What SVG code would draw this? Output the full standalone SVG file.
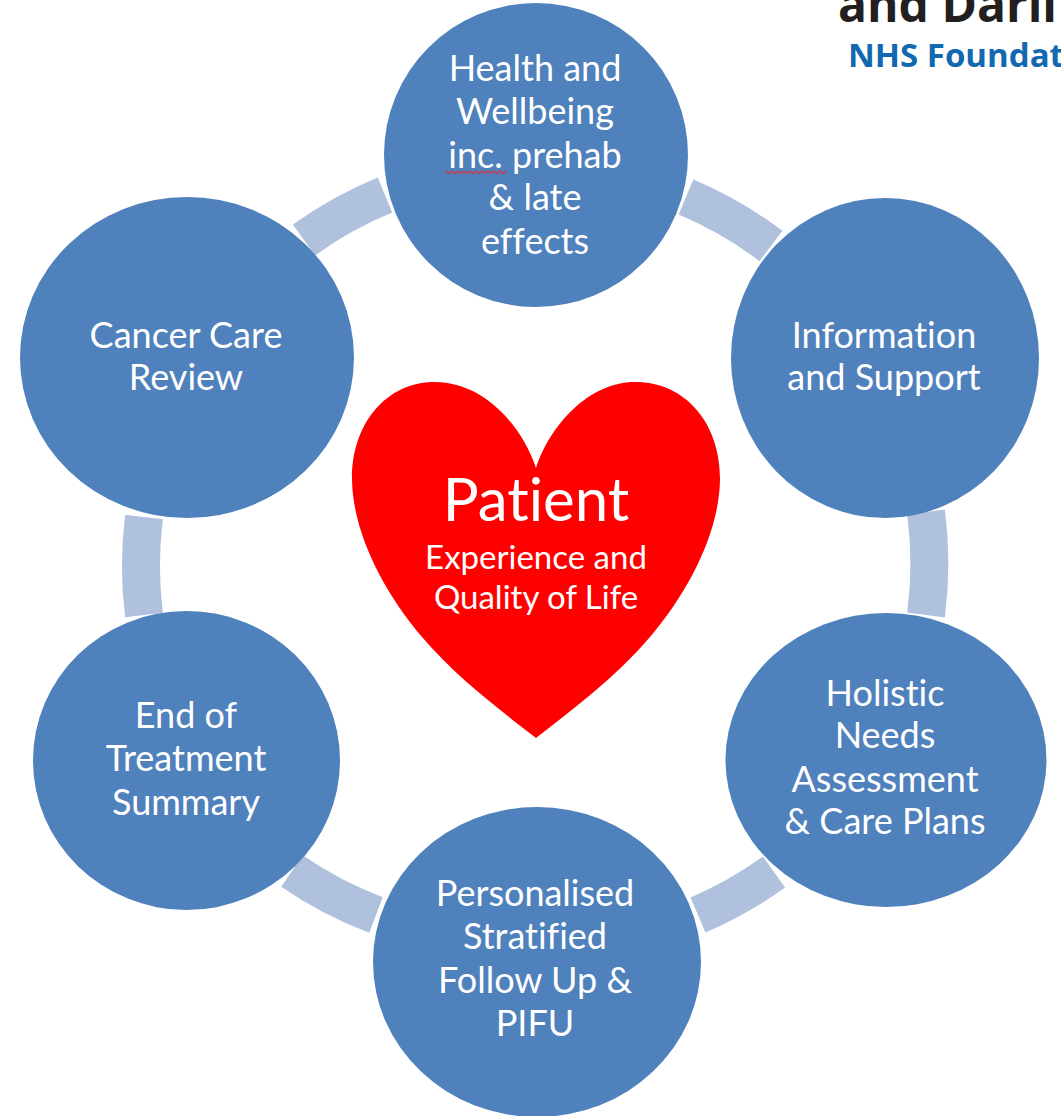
<svg xmlns="http://www.w3.org/2000/svg" width="1061" height="1116" viewBox="0 0 1061 1116">
<style>
.n{fill:#4f81bd}
.c{fill:none;stroke:#b0c1de;stroke-width:38}
text{font-family:Lato,"Open Sans",sans-serif;fill:#fff;text-anchor:middle;font-size:36px;font-variant-ligatures:none}
.logo{font-family:"Open Sans",sans-serif;font-weight:700;text-anchor:start}
</style>
<rect width="1061" height="1116" fill="#fff"/>
<g id="connectors">
<path class="c" d="M686 197A393 393 0 0 1 771 246"/>
<path class="c" d="M926 512A393 393 0 0 1 926 615"/>
<path class="c" d="M774 872A393 393 0 0 1 698 915"/>
<path class="c" d="M376 915A393 393 0 0 1 292 871"/>
<path class="c" d="M144 615A393 393 0 0 1 144 517"/>
<path class="c" d="M304 240A393 393 0 0 1 385 195"/>
</g>
<g id="logo">
<text class="logo" x="838" y="22" style="fill:#231f20;font-size:48px">and Darli</text>
<text class="logo" x="848" y="67" style="fill:#1269b0;font-size:33px">NHS Foundat</text>
</g>
<g id="health"><circle class="n" cx="536" cy="155" r="152"/>
<text x="535" y="81">Health and</text><text x="535" y="124">Wellbeing</text><text x="535" y="168">inc. prehab</text><text x="535" y="210">&amp; late</text><text x="535" y="254">effects</text>
<path d="M446 171l3 2.500 3-2.500 3 2.500 3-2.500 3 2.500 3-2.500 3 2.500 3-2.500 3 2.500 3-2.500 3 2.500 3-2.500 3 2.500 3-2.500 3 2.500 3-2.500 3 2.500 3-2.500 3 2.500 3-2.500" fill="none" stroke="#c8404f" stroke-width="1.500"/></g>
<g id="information"><ellipse class="n" cx="885" cy="358" rx="154" ry="160"/>
<text x="884" y="348">Information</text><text x="884" y="390">and Support</text></g>
<g id="holistic"><ellipse class="n" cx="886" cy="760" rx="160.500" ry="147"/>
<text x="885" y="706">Holistic</text><text x="885" y="748">Needs</text><text x="885" y="792">Assessment</text><text x="885" y="834">&amp; Care Plans</text></g>
<g id="personalised"><ellipse class="n" cx="537" cy="962" rx="164" ry="155"/>
<text x="535" y="906">Personalised</text><text x="535" y="949">Stratified</text><text x="535" y="993">Follow Up &amp;</text><text x="535" y="1036">PIFU</text></g>
<g id="treatment"><ellipse class="n" cx="186.500" cy="760.500" rx="153.500" ry="149.500"/>
<text x="186" y="728">End of</text><text x="186" y="771">Treatment</text><text x="186" y="815">Summary</text></g>
<g id="review"><ellipse class="n" cx="187" cy="357.500" rx="167" ry="160.500"/>
<text x="186" y="348">Cancer Care</text><text x="186" y="390">Review</text></g>
<g id="patient">
<path fill="#f00" d="M536 468C522 425 483 382 435 382C385 382 352 425 352 478C352 530 382 590 422 637C456 677 500 710 536 738C572 710 616 677 650 637C690 590 720 530 720 478C720 425 687 382 635 382C589 382 550 425 536 468Z"/>
<text x="536" y="521" style="font-size:60px">Patient</text>
<text x="536" y="569" style="font-size:33px">Experience and</text>
<text x="536" y="609" style="font-size:33px">Quality of Life</text>
</g>
</svg>
